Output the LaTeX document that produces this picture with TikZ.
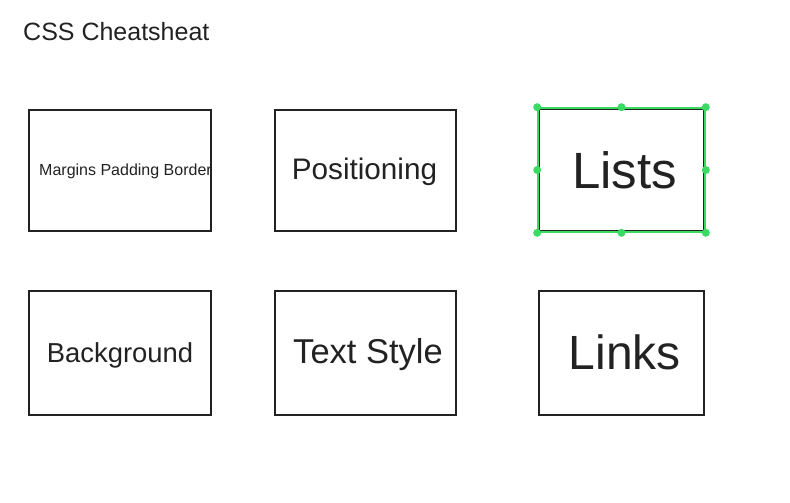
\documentclass[tikz,border=0pt]{standalone}
\usepackage{fontspec}
\setmainfont{Liberation Sans}
\definecolor{inkgray}{RGB}{34,34,34}
\definecolor{selgreen}{RGB}{58,219,98}
\newcommand{\fsz}[1]{\fontsize{#1}{#1}\selectfont}
\begin{document}
\begin{tikzpicture}[x=1pt,y=-1pt,
  card/.style={draw=inkgray,line width=2pt,rectangle,inner sep=0pt},
  cardtext/.style={text=inkgray,anchor=base,inner sep=0pt},
  selbox/.style={draw=selgreen,line width=1.6pt,rectangle,inner sep=0pt},
  handle/.style={fill=selgreen}]
\useasboundingbox (0,0) rectangle (790,503);

\node[text=inkgray,anchor=base west,inner sep=0pt,font=\fsz{25}] (title) at (23,41) {CSS Cheatsheat};

% top row
\node[card,minimum width=182,minimum height=121] (margins) at (120,170) {};
\node[card,minimum width=181,minimum height=121] (positioning) at (365,170) {};
\node[card,minimum width=165,minimum height=122] (lists) at (621.5,170) {};

% bottom row
\node[card,minimum width=182,minimum height=124] (background) at (120,353) {};
\node[card,minimum width=181,minimum height=124] (textstyle) at (365,353) {};
\node[card,minimum width=165,minimum height=124] (links) at (621,353) {};

\node[cardtext,font=\fsz{16}] (marginsT) at (125.5,175) {Margins Padding Border};
\node[cardtext,font=\fsz{29.7}] (positioningT) at (364.5,179) {Positioning};
\node[cardtext,font=\fsz{51}] (listsT) at (624.5,188) {Lists};
\node[cardtext,font=\fsz{27.4}] (backgroundT) at (120,362) {Background};
\node[cardtext,font=\fsz{34.5}] (textstyleT) at (368,363) {Text Style};
\node[cardtext,font=\fsz{48}] (linksT) at (624.7,369) {Links};

% selection frame round Lists
\node[selbox,minimum width=167,minimum height=124] (sel) at (lists.center) {};
\foreach \a in {north west,north,north east,west,east,south west,south,south east}
  \fill[handle] (sel.\a) circle (4);
\end{tikzpicture}
\end{document}
